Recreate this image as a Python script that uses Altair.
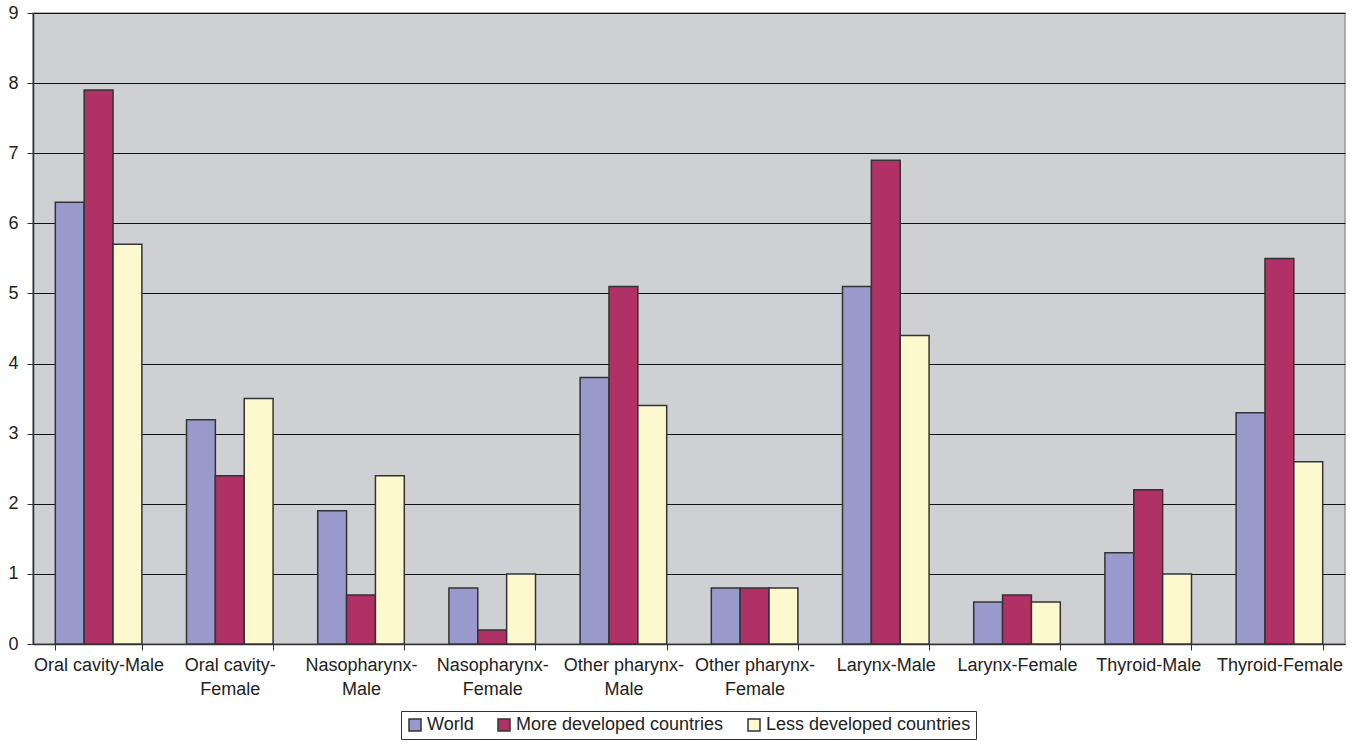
import altair as alt
import pandas as pd

categories = ["Oral cavity-Male", "Oral cavity-|Female", "Nasopharynx-|Male", "Nasopharynx-|Female",
              "Other pharynx-|Male", "Other pharynx-|Female", "Larynx-Male", "Larynx-Female",
              "Thyroid-Male", "Thyroid-Female"]
series = ["World", "More developed countries", "Less developed countries"]
world = [6.3, 3.2, 1.9, 0.8, 3.8, 0.8, 5.1, 0.6, 1.3, 3.3]
more_dev = [7.9, 2.4, 0.7, 0.2, 5.1, 0.8, 6.9, 0.7, 2.2, 5.5]
less_dev = [5.7, 3.5, 2.4, 1.0, 3.4, 0.8, 4.4, 0.6, 1.0, 2.6]
colors = ["#9999cc", "#b03166", "#fbf9cd"]

rows = []
for i, c in enumerate(categories):
    for s, vals in zip(series, [world, more_dev, less_dev]):
        rows.append({"cat": c, "series": s, "value": vals[i]})
df = pd.DataFrame(rows)

font = "Liberation Sans"

chart = alt.Chart(df).mark_bar(stroke="#333333", strokeWidth=1.5).encode(
    x=alt.X("cat:N", sort=categories,
            scale=alt.Scale(paddingInner=0.34, paddingOuter=0.17),
            axis=alt.Axis(title=None, labelAngle=0, labelFontSize=18, labelFont=font,
                          labelColor="#222222", labelLineHeight=24, labelPadding=6,
                          labelExpr="split(datum.label, '|')", tickBand="extent",
                          tickSize=6, tickColor="#333333", domainColor="#333333",
                          domainWidth=1.5, labelLimit=0)),
    xOffset=alt.XOffset("series:N", sort=series, scale=alt.Scale(paddingInner=0, paddingOuter=0)),
    y=alt.Y("value:Q", scale=alt.Scale(domain=[0, 9], nice=False),
            axis=alt.Axis(title=None, values=list(range(10)), labelFontSize=18, labelFont=font,
                          labelColor="#222222", labelPadding=9, tickSize=6,
                          tickColor="#333333", domainColor="#333333", domainWidth=1.5,
                          grid=True, gridColor="#111111", gridWidth=1)),
    color=alt.Color("series:N", sort=series,
                    scale=alt.Scale(domain=series, range=colors),
                    legend=alt.Legend(title=None, orient="none", legendX=368, legendY=698,
                                      direction="horizontal", symbolType="square",
                                      symbolSize=144, symbolStrokeColor="#333333",
                                      symbolStrokeWidth=1.5, labelFontSize=18, labelFont=font,
                                      labelColor="#222222", strokeColor="#333333",
                                      padding=5, columnPadding=21, labelOffset=3,
                                      labelLimit=0)),
).properties(
    width=1312, height=631,
    autosize=alt.AutoSizeParams(type="none"),
    padding={"left": 33, "top": 13, "right": 11, "bottom": 98},
).configure_view(fill="#cfd0d4", stroke="#999999", strokeWidth=1.5)

chart.save("out.html", embed_options={"renderer": "svg", "actions": False})
